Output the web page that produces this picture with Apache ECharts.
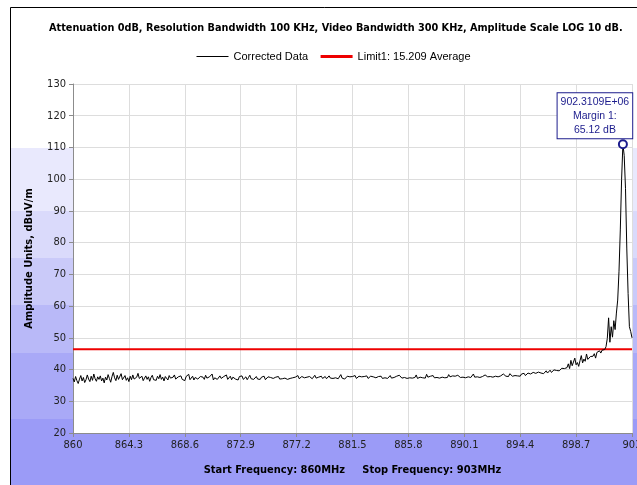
<!DOCTYPE html>
<html>
<head>
<meta charset="utf-8">
<script src="https://cdn.jsdelivr.net/npm/echarts@6/dist/echarts.min.js"></script>
<style>
  html, body { margin: 0; padding: 0; background: #fff; }
  #main { width: 637px; height: 485px; }
</style>
</head>
<body>
<div id="main"></div>
<script>
// sweep settings (MHz)
var startFreq = 860;
var stopFreq = 903;
var stepMHz = 0.1;
var xTickStep = 4.3;

// measured amplitude, dBuV/m, one value per 0.1 MHz from 860.0 to 903.0
var amplitude = [
  37.2,36.1,37.8,36.5,35.6,37.0,38.1,36.4,37.5,35.9,36.8,38.3,37.0,36.2,37.9,36.6,38.6,37.1,36.3,37.7,
  36.9,38.0,36.4,37.3,35.8,37.6,36.7,38.4,37.2,36.0,37.8,39.1,37.4,36.5,38.2,36.9,37.5,38.7,36.8,37.3,
  38.1,36.6,37.4,36.2,37.9,36.8,38.3,37.0,36.4,37.6,38.8,37.2,36.7,37.9,36.5,37.3,38.0,36.9,37.7,36.3,
  37.5,38.2,36.8,37.4,36.6,37.9,37.1,38.4,36.9,37.6,36.4,37.8,37.2,36.7,38.1,37.3,36.8,37.6,38.3,37.0,
  36.6,37.7,37.1,38.0,36.9,37.4,36.5,37.8,37.2,38.5,36.8,37.3,37.9,36.7,37.5,38.1,37.0,36.6,37.8,37.2,
  37.6,36.9,38.2,37.3,36.8,37.7,37.1,38.6,36.7,37.4,37.9,36.9,37.5,38.0,37.2,36.6,37.8,37.3,38.3,36.9,
  37.4,37.9,36.8,37.6,38.1,37.0,37.5,36.7,37.8,37.2,38.0,36.9,37.3,37.7,36.8,37.5,38.2,37.1,37.6,36.9,
  37.3,37.8,37.0,37.5,36.9,37.6,37.2,37.9,36.8,37.4,37.7,37.1,37.5,38.0,37.2,36.9,37.6,37.3,37.8,37.0,
  37.4,37.1,37.7,37.3,37.9,36.9,37.5,37.2,37.8,37.4,37.0,37.6,37.3,38.1,37.1,37.5,37.8,37.2,37.4,36.9,
  37.6,37.2,37.8,37.4,37.1,37.7,38.2,37.3,37.0,37.6,37.4,37.9,37.2,37.5,37.8,37.1,37.6,38.0,37.3,37.5,
  37.2,37.7,37.4,37.9,37.1,37.6,38.4,37.3,37.8,37.0,37.5,37.9,37.3,37.7,37.2,37.8,37.4,38.1,37.2,37.6,
  37.9,37.3,37.7,37.1,37.8,37.4,38.0,37.2,37.6,37.9,37.3,37.7,38.3,37.4,37.1,37.8,37.5,37.9,37.2,37.6,
  37.4,37.9,37.2,37.7,38.1,37.3,37.8,37.5,37.1,37.9,37.4,38.2,37.6,37.3,37.8,37.5,38.0,37.2,37.7,37.4,
  37.8,37.3,37.9,37.5,38.3,37.2,37.7,37.6,38.0,37.4,37.8,37.3,38.5,37.6,37.2,37.9,37.5,38.1,37.4,37.8,
  37.5,38.0,37.3,37.9,37.6,38.2,37.4,37.8,37.5,38.4,37.7,37.3,38.0,37.6,37.9,37.4,38.2,37.7,37.5,38.0,
  37.6,38.1,37.4,37.9,37.7,38.3,37.5,37.9,38.6,37.6,38.0,37.7,38.2,37.5,38.1,37.8,37.6,38.3,37.9,37.7,
  38.2,37.8,38.4,37.6,38.1,37.9,38.5,37.7,38.2,38.0,37.8,38.6,38.1,37.9,38.3,37.8,38.7,38.2,37.9,38.4,
  38.1,38.5,38.0,38.3,37.9,38.6,38.2,38.8,38.1,38.4,38.9,38.3,38.6,38.2,39.1,38.5,38.8,38.4,39.2,38.7,
  38.9,39.4,38.7,39.1,39.6,38.9,39.3,39.8,39.1,39.5,39.9,39.3,39.7,40.2,39.6,40.0,40.4,39.9,40.3,40.8,
  40.6,41.8,40.3,42.9,41.2,40.8,43.6,41.5,42.2,41.0,42.8,44.4,42.1,43.3,42.6,44.9,43.2,42.8,44.1,43.6,
  44.2,45.0,43.6,45.4,44.8,45.9,45.2,46.1,45.5,46.3,47.2,49.8,56.3,48.6,53.5,50.2,55.4,52.6,57.8,61.9,
  71.0,84.0,100.0,111.0,107.5,97.0,78.0,64.0,53.5,52.0,50.0
];

// limit line
var limitFreqs = [860, 903];
var limitLevel = [46.4, 46.4];

var annotationLines = ['902.3109E+06', 'Margin 1:', '65.12 dB'];

// background bands of the frame
var bandEdges = [0.295, 0.425, 0.525, 0.623, 0.722, 0.860];
var bandColors = ['#ffffff', '#e9e9fd', '#dadafb', '#cacaf9', '#b9b9f8', '#a9a9f7', '#9b9bf7'];

var traceData = amplitude.map(function (v, i) {
  return [+(startFreq + i * stepMHz).toFixed(1), v];
});
var limitData = limitFreqs.map(function (f, i) { return [f, limitLevel[i]]; });

var stops = [];
for (var i = 0; i < bandColors.length; i++) {
  var a = i === 0 ? 0 : bandEdges[i - 1];
  var b = i === bandColors.length - 1 ? 1 : bandEdges[i];
  stops.push({ offset: a, color: bandColors[i] });
  stops.push({ offset: b, color: bandColors[i] });
}

var boldFont = { fontFamily: 'DejaVu Sans Condensed', fontWeight: 'bold', fontSize: 11, color: '#000' };

var myChart = echarts.init(document.getElementById('main'));
var option = {
  animation: false,
  graphic: [{
    type: 'rect',
    z: -10,
    silent: true,
    shape: { x: 10.5, y: 7.5, width: 700, height: 478 },
    style: {
      fill: new echarts.graphic.LinearGradient(0, 0, 0, 1, stops),
      stroke: '#000',
      lineWidth: 1
    }
  }],
  title: {
    text: 'Attenuation 0dB, Resolution Bandwidth 100 KHz, Video Bandwidth 300 KHz, Amplitude Scale LOG 10 dB.',
    left: 49,
    top: 23,
    padding: 0,
    textStyle: { fontFamily: 'DejaVu Sans Condensed', fontWeight: 'bold', fontSize: 10.8, color: '#000' }
  },
  legend: {
    left: 196,
    top: 51,
    padding: 0,
    itemWidth: 32,
    itemHeight: 3,
    itemGap: 11,
    itemStyle: { opacity: 0 },
    data: [
      { name: 'Corrected Data', lineStyle: { width: 1 } },
      { name: 'Limit1: 15.209 Average', lineStyle: { width: 3 } }
    ],
    textStyle: { fontFamily: 'Liberation Sans', fontSize: 11, color: '#000' }
  },
  grid: {
    left: 73, top: 84, right: 5, bottom: 52,
    outerBoundsMode: 'none',
    containLabel: false,
    show: true, backgroundColor: '#ffffff', borderWidth: 0
  },
  xAxis: {
    type: 'value',
    min: startFreq,
    max: stopFreq,
    interval: xTickStep,
    name: 'Start Frequency: 860MHz     Stop Frequency: 903MHz',
    nameLocation: 'middle',
    nameGap: 32,
    nameTextStyle: boldFont,
    axisLine: { lineStyle: { color: '#8c8c8c' } },
    axisTick: { show: true, length: 4, lineStyle: { color: '#8c8c8c' } },
    axisLabel: {
      margin: 7,
      color: '#222',
      fontFamily: 'DejaVu Sans Condensed',
      fontSize: 11,
      hideOverlap: false,
      formatter: function (v) {
        return Math.abs(v - Math.round(v)) < 1e-6 ? String(Math.round(v)) : v.toFixed(1);
      }
    },
    splitLine: { show: true, lineStyle: { color: '#dddddd' } }
  },
  yAxis: {
    type: 'value',
    min: 20,
    max: 130,
    interval: 10,
    name: 'Amplitude Units, dBuV/m',
    nameLocation: 'middle',
    nameGap: 38,
    nameTextStyle: boldFont,
    axisLine: { show: true, lineStyle: { color: '#8c8c8c' } },
    axisTick: { show: true, length: 4, lineStyle: { color: '#8c8c8c' } },
    axisLabel: { margin: 7, color: '#222', fontFamily: 'DejaVu Sans Condensed', fontSize: 11 },
    splitLine: { show: true, lineStyle: { color: '#dddddd' } }
  },
  series: [
    {
      name: 'Corrected Data',
      type: 'line',
      symbol: 'none',
      z: 4,
      lineStyle: { color: '#000', width: 1 },
      itemStyle: { color: '#000' },
      data: traceData,
      markPoint: {
        symbol: 'emptyCircle',
        symbolSize: 8,
        itemStyle: { color: '#1c1c8c', borderColor: '#1c1c8c', borderWidth: 1 },
        label: {
          show: true,
          position: 'top',
          distance: 1,
          offset: [-28, 0],
          formatter: annotationLines.join('\n'),
          color: '#1c1c8c',
          fontFamily: 'Liberation Sans',
          fontSize: 10.5,
          lineHeight: 14,
          align: 'center',
          backgroundColor: '#fff',
          borderColor: '#1c1c8c',
          borderWidth: 1,
          padding: [2, 3, 1, 3]
        },
        data: [{ type: 'max' }]
      }
    },
    {
      name: 'Limit1: 15.209 Average',
      type: 'line',
      symbol: 'none',
      z: 3,
      lineStyle: { color: '#ee0000', width: 2 },
      itemStyle: { color: '#ee0000' },
      data: limitData
    }
  ]
};
myChart.setOption(option);
</script>
</body>
</html>
